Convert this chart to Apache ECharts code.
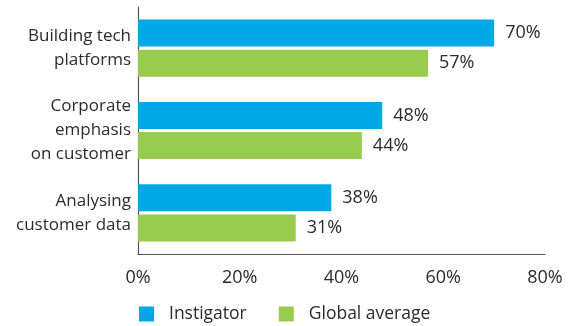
<!DOCTYPE html>
<html>
<head>
<meta charset="utf-8">
<script src="https://cdn.jsdelivr.net/npm/echarts@6/dist/echarts.min.js"></script>
<style>
  html, body { margin: 0; padding: 0; background: #fff; }
  #chart { width: 576px; height: 326px; }
</style>
</head>
<body>
<div id="chart"></div>
<script>
// Categories, top to bottom
const categories = [
  'Building tech\nplatforms',
  'Corporate\nemphasis\non customer',
  'Analysing\ncustomer data'
];
const seriesNames = ['Instigator', 'Global average'];
const instigator = [70, 48, 38];
const globalAverage = [57, 44, 31];
const xTicks = [0, 20, 40, 60, 80];

const FONT = '"Open Sans", "Noto Sans", sans-serif';
const TEXT = '#2b2b2b';
const BLUE = '#00A9E6';
const GREEN = '#99CC4C';

const chart = echarts.init(document.getElementById('chart'), null, { renderer: 'canvas' });

const valueLabel = {
  show: true,
  position: 'right',
  distance: 11,
  formatter: p => p.value + '%',
  color: TEXT,
  fontFamily: FONT,
  fontSize: 18,
  padding: [3, 0, 0, 0]
};

chart.setOption({
  animation: false,
  backgroundColor: '#ffffff',
  textStyle: { fontFamily: FONT },
  grid: { left: 138, right: 31, top: 7, bottom: 72, containLabel: false },
  legend: {
    data: seriesNames,
    left: 139,
    top: 304,
    padding: 0,
    itemWidth: 15,
    itemHeight: 15,
    itemGap: 32,
    icon: 'rect',
    textStyle: { color: TEXT, fontSize: 17.5, lineHeight: 20, fontFamily: FONT, padding: [0, 0, 0, 10] }
  },
  xAxis: {
    type: 'value',
    min: xTicks[0],
    max: xTicks[xTicks.length - 1],
    interval: xTicks[1] - xTicks[0],
    axisLine: { show: true, lineStyle: { color: '#555555', width: 1.2 } },
    axisTick: { show: false },
    splitLine: { show: false },
    axisLabel: {
      formatter: v => v + '%',
      color: TEXT,
      fontSize: 18,
      fontFamily: FONT,
      margin: 15
    }
  },
  yAxis: {
    type: 'category',
    data: categories,
    inverse: true,
    axisLine: { show: true, lineStyle: { color: '#555555', width: 1.2 } },
    axisTick: { show: false },
    axisLabel: {
      color: TEXT,
      fontSize: 17,
      fontFamily: FONT,
      lineHeight: 24,
      margin: 7,
      align: 'right',
      padding: [8, 0, 0, 0]
    }
  },
  series: [
    {
      name: seriesNames[0],
      type: 'bar',
      data: instigator,
      barWidth: 27,
      barGap: '12%',
      itemStyle: { color: BLUE },
      label: valueLabel
    },
    {
      name: seriesNames[1],
      type: 'bar',
      data: globalAverage,
      barWidth: 27,
      barGap: '12%',
      itemStyle: { color: GREEN },
      label: valueLabel
    }
  ]
});
</script>
</body>
</html>
